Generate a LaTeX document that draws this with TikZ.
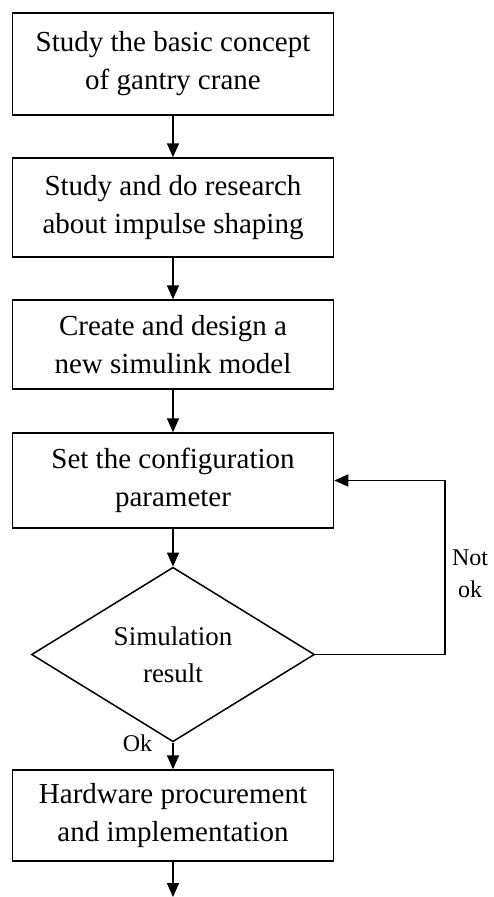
\documentclass[tikz,border=0pt]{standalone}
\usepackage{fontspec}
\setmainfont{Liberation Serif}
\usetikzlibrary{shapes.geometric,arrows.meta}
\begin{document}
\begin{tikzpicture}[x=1pt,y=-1pt,
  line width=1.5pt,
  stepbox/.style={draw, rectangle, minimum width=321pt, inner sep=0pt,
    align=center, font=\fontsize{29}{38}\selectfont},
  decision/.style={draw, diamond, minimum width=283pt, minimum height=153pt,
    inner sep=0pt, align=center, font=\fontsize{27}{37}\selectfont},
  flow/.style={-{Triangle[length=14pt,width=12pt]}},
  lbl/.style={inner sep=0pt, align=center, font=\fontsize{24}{32}\selectfont}]
\useasboundingbox (0,0) rectangle (493,897);

\node[stepbox, minimum height=102pt] (b1) at (173,64) {Study the basic concept\\of gantry crane};
\node[stepbox, minimum height=99pt] (b2) at (173,207.5) {Study and do research\\about impulse shaping};
\node[stepbox, minimum height=89pt] (b3) at (173,344.5) {Create and design a\\new simulink model};
\node[stepbox, minimum height=95pt] (b4) at (173,480.5) {Set the configuration\\parameter};
\node[decision] (sim) at (173,654.5) {Simulation\\result};
\node[stepbox, minimum height=91pt] (b5) at (173,815.5) {Hardware procurement\\and implementation};

\coordinate (loop) at (445,654.5);
\coordinate (endpt) at (173,897);

\draw[flow] (b1) -- (b2);
\draw[flow] (b2) -- (b3);
\draw[flow] (b3) -- (b4);
\draw[flow] (b4.south) -- (sim.north);
\draw[flow] (sim.south) -- (b5.north);
\draw[flow] (sim.east) -- (loop) |- (b4.east);
\draw[flow] (b5.south) -- (endpt);

\node[lbl] (notok) at (470,574) {Not\\ok};
\node[lbl] (ok) at (137.5,743) {Ok};
\end{tikzpicture}
\end{document}
